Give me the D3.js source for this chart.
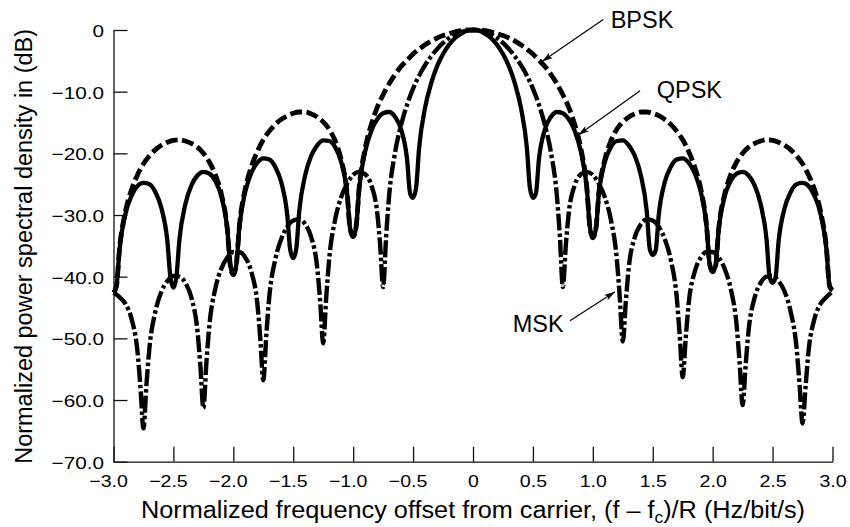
<!DOCTYPE html>
<html>
<head>
<meta charset="utf-8">
<script src="https://cdn.jsdelivr.net/npm/d3@7"></script>
<style>
  html, body { margin: 0; padding: 0; background: #fff; }
  svg { display: block; }
  text { font-family: "Liberation Sans", Arial, Helvetica, sans-serif; fill: #000; }
</style>
</head>
<body>
<svg id="chart" width="850" height="527"></svg>
<script>
// Normalized power spectral density (dB) versus normalized frequency offset (f - fc)/R
const xTickValues = [-3, -2.5, -2, -1.5, -1, -0.5, 0, 0.5, 1, 1.5, 2, 2.5, 3];
const xTickLabels = ["\u22123.0", "\u22122.5", "\u22122.0", "\u22121.5", "\u22121.0", "\u22120.5", "0",
                     "0.5", "1.0", "1.5", "2.0", "2.5", "3.0"];
const yTickValues = [0, -10, -20, -30, -40, -50, -60, -70];
const yTickLabels = ["0", "\u221210.0", "\u221220.0", "\u221230.0", "\u221240.0", "\u221250.0", "\u221260.0", "\u221270.0"];

// [frequency offset, PSD in dB]
const bpsk = [
  [-3,-42.6],[-2.975,-41.5],[-2.95,-35.5],[-2.9,-29.4],[-2.85,-25.9],[-2.8,-23.5],[-2.75,-21.7],[-2.7,-20.4],
  [-2.65,-19.4],[-2.6,-18.7],[-2.55,-18.2],[-2.5,-17.9],[-2.45,-17.8],[-2.4,-18.0],[-2.35,-18.4],[-2.3,-19.0],
  [-2.25,-20.0],[-2.2,-21.4],[-2.15,-23.5],[-2.1,-26.6],[-2.05,-32.3],[-2.025,-38.2],[-2,-39.7],[-1.975,-38.0],
  [-1.95,-31.9],[-1.9,-25.7],[-1.85,-22.2],[-1.8,-19.7],[-1.75,-17.8],[-1.7,-16.4],[-1.65,-15.3],[-1.6,-14.5],
  [-1.55,-13.9],[-1.5,-13.5],[-1.45,-13.3],[-1.4,-13.3],[-1.35,-13.6],[-1.3,-14.1],[-1.25,-14.9],[-1.2,-16.1],
  [-1.15,-18.0],[-1.1,-21.0],[-1.05,-26.5],[-1.025,-32.3],[-1,-33.5],[-0.975,-31.8],[-0.95,-25.6],[-0.9,-19.2],
  [-0.85,-15.4],[-0.8,-12.6],[-0.75,-10.5],[-0.7,-8.7],[-0.65,-7.2],[-0.6,-5.9],[-0.55,-4.9],[-0.5,-3.9],
  [-0.45,-3.1],[-0.4,-2.4],[-0.35,-1.8],[-0.3,-1.3],[-0.25,-0.9],[-0.2,-0.6],[-0.15,-0.3],[-0.1,-0.1],
  [-0.05,0],[0,0],
  [0.05,0],[0.1,-0.1],[0.15,-0.3],[0.2,-0.6],[0.25,-0.9],[0.3,-1.3],[0.35,-1.8],[0.4,-2.4],[0.45,-3.1],
  [0.5,-3.9],[0.55,-4.9],[0.6,-5.9],[0.65,-7.2],[0.7,-8.7],[0.75,-10.5],[0.8,-12.6],[0.85,-15.4],[0.9,-19.2],
  [0.95,-25.6],[0.975,-31.8],[1,-33.7],[1.025,-32.3],[1.05,-26.5],[1.1,-21.0],[1.15,-18.0],[1.2,-16.1],
  [1.25,-14.9],[1.3,-14.1],[1.35,-13.6],[1.4,-13.3],[1.45,-13.3],[1.5,-13.5],[1.55,-13.9],[1.6,-14.5],
  [1.65,-15.3],[1.7,-16.4],[1.75,-17.8],[1.8,-19.7],[1.85,-22.2],[1.9,-25.7],[1.95,-31.9],[1.975,-38.0],
  [2,-39.2],[2.025,-38.2],[2.05,-32.3],[2.1,-26.6],[2.15,-23.5],[2.2,-21.4],[2.25,-20.0],[2.3,-19.0],
  [2.35,-18.4],[2.4,-18.0],[2.45,-17.8],[2.5,-17.9],[2.55,-18.2],[2.6,-18.7],[2.65,-19.4],[2.7,-20.4],
  [2.75,-21.7],[2.8,-23.5],[2.85,-25.9],[2.9,-29.4],[2.95,-35.5],[2.975,-41.5],[3,-42.2]
];

const qpsk = [
  [-3,-42.6],[-2.975,-41.5],[-2.95,-35.6],[-2.9,-29.8],[-2.85,-26.9],[-2.8,-25.3],[-2.75,-24.8],[-2.7,-25.0],
  [-2.65,-26.3],[-2.6,-28.9],[-2.55,-34.3],[-2.525,-40.1],[-2.5,-41.8],[-2.475,-40.0],[-2.45,-34.0],[-2.4,-28.2],
  [-2.35,-25.2],[-2.3,-23.6],[-2.25,-23.0],[-2.2,-23.3],[-2.15,-24.5],[-2.1,-27.0],[-2.05,-32.4],[-2.025,-38.2],
  [-2,-39.7],[-1.975,-38.0],[-1.95,-32.0],[-1.9,-26.2],[-1.85,-23.2],[-1.8,-21.5],[-1.75,-20.8],[-1.7,-21.0],
  [-1.65,-22.2],[-1.6,-24.7],[-1.55,-30.0],[-1.525,-35.7],[-1.5,-37.0],[-1.475,-35.5],[-1.45,-29.4],[-1.4,-23.5],
  [-1.35,-20.4],[-1.3,-18.7],[-1.25,-17.9],[-1.2,-18.0],[-1.15,-19.0],[-1.1,-21.4],[-1.05,-26.6],[-1.025,-32.3],
  [-1,-33.5],[-0.975,-31.9],[-0.95,-25.7],[-0.9,-19.7],[-0.85,-16.4],[-0.8,-14.5],[-0.75,-13.5],[-0.7,-13.3],
  [-0.65,-14.1],[-0.6,-16.1],[-0.55,-21.0],[-0.525,-26.5],[-0.5,-27.2],[-0.475,-25.6],[-0.45,-19.2],[-0.4,-12.6],
  [-0.35,-8.7],[-0.3,-5.9],[-0.25,-3.9],[-0.2,-2.4],[-0.15,-1.3],[-0.1,-0.6],[-0.05,-0.1],[0,0],
  [0.05,-0.1],[0.1,-0.6],[0.15,-1.3],[0.2,-2.4],[0.25,-3.9],[0.3,-5.9],[0.35,-8.7],[0.4,-12.6],[0.45,-19.2],
  [0.475,-25.6],[0.5,-27.2],[0.525,-26.5],[0.55,-21.0],[0.6,-16.1],[0.65,-14.1],[0.7,-13.3],[0.75,-13.5],
  [0.8,-14.5],[0.85,-16.4],[0.9,-19.7],[0.95,-25.7],[0.975,-31.9],[1,-33.7],[1.025,-32.3],[1.05,-26.6],
  [1.1,-21.4],[1.15,-19.0],[1.2,-18.0],[1.25,-17.9],[1.3,-18.7],[1.35,-20.4],[1.4,-23.5],[1.45,-29.4],
  [1.475,-35.5],[1.5,-36.5],[1.525,-35.7],[1.55,-30.0],[1.6,-24.7],[1.65,-22.2],[1.7,-21.0],[1.75,-20.8],
  [1.8,-21.5],[1.85,-23.2],[1.9,-26.2],[1.95,-32.0],[1.975,-38.0],[2,-39.2],[2.025,-38.2],[2.05,-32.4],
  [2.1,-27.0],[2.15,-24.5],[2.2,-23.3],[2.25,-23.0],[2.3,-23.6],[2.35,-25.2],[2.4,-28.2],[2.45,-34.0],
  [2.475,-40.0],[2.5,-41.0],[2.525,-40.1],[2.55,-34.3],[2.6,-28.9],[2.65,-26.3],[2.7,-25.0],[2.75,-24.8],
  [2.8,-25.3],[2.85,-26.9],[2.9,-29.8],[2.95,-35.6],[2.975,-41.5],[3,-42.2]
];

const msk = [
  [-3,-42.6],[-2.95,-43.3],[-2.9,-44.4],[-2.85,-46.8],[-2.8,-52.1],[-2.775,-57.9],[-2.75,-64.6],[-2.725,-57.5],
  [-2.7,-51.5],[-2.65,-45.6],[-2.6,-42.4],[-2.55,-40.7],[-2.5,-39.9],[-2.45,-40.0],[-2.4,-41.0],[-2.35,-43.4],
  [-2.3,-48.7],[-2.275,-54.4],[-2.25,-61.3],[-2.225,-54.0],[-2.2,-47.9],[-2.15,-41.9],[-2.1,-38.7],[-2.05,-36.9],
  [-2,-36.0],[-1.95,-36.0],[-1.9,-36.9],[-1.85,-39.2],[-1.8,-44.3],[-1.775,-50.0],[-1.75,-56.8],[-1.725,-49.5],
  [-1.7,-43.3],[-1.65,-37.2],[-1.6,-33.9],[-1.55,-31.9],[-1.5,-30.9],[-1.45,-30.7],[-1.4,-31.5],[-1.35,-33.6],
  [-1.3,-38.5],[-1.275,-44.1],[-1.25,-50.8],[-1.225,-43.4],[-1.2,-37.1],[-1.15,-30.7],[-1.1,-27.1],[-1.05,-24.9],
  [-1,-23.5],[-0.95,-23.0],[-0.9,-23.4],[-0.85,-25.1],[-0.8,-29.5],[-0.775,-34.8],[-0.75,-41.7],[-0.725,-33.5],
  [-0.7,-26.9],[-0.65,-19.8],[-0.6,-15.4],[-0.55,-12.1],[-0.5,-9.5],[-0.45,-7.4],[-0.4,-5.7],[-0.35,-4.3],
  [-0.3,-3.1],[-0.25,-2.1],[-0.2,-1.3],[-0.15,-0.7],[-0.1,-0.3],[-0.05,-0.1],[0,0],
  [0.05,-0.1],[0.1,-0.3],[0.15,-0.7],[0.2,-1.3],[0.25,-2.1],[0.3,-3.1],[0.35,-4.3],[0.4,-5.7],[0.45,-7.4],
  [0.5,-9.5],[0.55,-12.1],[0.6,-15.4],[0.65,-19.8],[0.7,-26.9],[0.725,-33.5],[0.75,-41.7],[0.775,-34.8],
  [0.8,-29.5],[0.85,-25.1],[0.9,-23.4],[0.95,-23.0],[1,-23.5],[1.05,-24.9],[1.1,-27.1],[1.15,-30.7],
  [1.2,-37.1],[1.225,-43.4],[1.25,-50.5],[1.275,-44.1],[1.3,-38.5],[1.35,-33.6],[1.4,-31.5],[1.45,-30.7],
  [1.5,-30.9],[1.55,-31.9],[1.6,-33.9],[1.65,-37.2],[1.7,-43.3],[1.725,-49.5],[1.75,-56.3],[1.775,-50.0],
  [1.8,-44.3],[1.85,-39.2],[1.9,-36.9],[1.95,-36.0],[2,-36.0],[2.05,-36.9],[2.1,-38.7],[2.15,-41.9],
  [2.2,-47.9],[2.225,-54.0],[2.25,-60.8],[2.275,-54.4],[2.3,-48.7],[2.35,-43.4],[2.4,-41.0],[2.45,-40.0],
  [2.5,-39.9],[2.55,-40.7],[2.6,-42.4],[2.65,-45.6],[2.7,-51.5],[2.725,-57.5],[2.75,-63.8],[2.775,-57.9],
  [2.8,-52.1],[2.85,-46.8],[2.9,-44.4],[2.95,-43.3],[3,-42.4]
];

// Line styles per modulation
const seriesStyle = [
  { name: "BPSK", data: bpsk, width: 4.8, dash: "12,4.5" },
  { name: "MSK",  data: msk,  width: 4.4, dash: "17,3,3.5,3" },
  { name: "QPSK", data: qpsk, width: 4.3, dash: null }
];

// Callout labels: label anchor and arrow (start -> tip) in data units
const callouts = [
  { text: "BPSK", label: [1.149, 0.37],  from: [1.087, 1.70],   to: [0.576, -5.11] },
  { text: "QPSK", label: [1.533, -11.1], from: [1.394, -9.84],  to: [0.879, -17.03] },
  { text: "MSK",  label: [0.331, -48.9], from: [0.809, -47.14], to: [1.185, -42.44] }
];

const svg = d3.select("#chart");
const x = d3.scaleLinear().domain([-3, 3]).range([113.5, 832.5]);
const y = d3.scaleLinear().domain([-70, 0]).range([461.7, 30]);

const tickFont = 17;
const labelFont = 23.5;
const fontStack = "'Liberation Sans', Arial, Helvetica, sans-serif";

// Curves
const line = d3.line()
  .x(d => x(d[0]))
  .y(d => y(d[1]))
  .curve(d3.curveMonotoneX);

svg.append("g").attr("class", "curves")
  .selectAll("path")
  .data(seriesStyle)
  .join("path")
  .attr("d", d => line(d.data))
  .attr("fill", "none")
  .attr("stroke", "#000")
  .attr("stroke-width", d => d.width)
  .attr("stroke-linejoin", "round")
  .attr("stroke-dasharray", d => d.dash);

// Y axis (ticks point into the plot)
const yAxis = svg.append("g")
  .attr("transform", `translate(${x(-3)},0)`)
  .call(d3.axisLeft(y)
    .tickValues(yTickValues)
    .tickFormat((d, i) => yTickLabels[i])
    .tickSizeInner(-14)
    .tickSizeOuter(0));

// X axis (ticks point into the plot)
const xAxis = svg.append("g")
  .attr("transform", `translate(0,${y(-70)})`)
  .call(d3.axisBottom(x)
    .tickValues(xTickValues)
    .tickFormat((d, i) => xTickLabels[i])
    .tickSizeInner(-15)
    .tickSizeOuter(0));

[yAxis, xAxis].forEach(g => {
  g.attr("font-size", null).attr("font-family", null);
  g.select(".domain").attr("stroke", "#111").attr("stroke-width", 1.3);
  g.selectAll(".tick line").attr("stroke", "#111").attr("stroke-width", 1.3);
  g.selectAll(".tick text")
    .attr("font-family", fontStack)
    .attr("font-size", tickFont)
    .attr("fill", "#000");
});

yAxis.selectAll(".tick text")
  .attr("x", null).attr("dy", "0.38em")
  .attr("text-anchor", "end")
  .attr("transform", "translate(-9.5,0) scale(1.22,1)");

// Negative labels keep the digits centred on the tick, the minus sign hangs to the left
xAxis.selectAll(".tick text")
  .attr("y", null).attr("dy", null)
  .attr("text-anchor", "middle")
  .attr("transform", (d, i) =>
    `translate(${xTickLabels[i].startsWith("\u2212") ? -5.5 : 0},25) scale(1.15,1)`);

// Axis titles
const xTitle = svg.append("text")
  .attr("x", x(0))
  .attr("y", 518.3)
  .attr("text-anchor", "middle")
  .attr("font-size", labelFont);
xTitle.append("tspan").text("Normalized frequency offset from carrier, (f \u2013 f");
xTitle.append("tspan").attr("dy", 5).attr("font-size", 16).text("c");
xTitle.append("tspan").attr("dy", -5).text(")/R (Hz/bit/s)");
xTitle.attr("textLength", 664).attr("lengthAdjust", "spacingAndGlyphs");

svg.append("text")
  .attr("transform", `translate(31.7,${(y(0) + y(-70)) / 2 + 0.5}) rotate(-90)`)
  .attr("text-anchor", "middle")
  .attr("font-size", labelFont)
  .text("Normalized power spectral density in (dB)");

// Arrowhead marker for callouts
svg.append("defs").append("marker")
  .attr("id", "arrowhead")
  .attr("viewBox", "0 0 10 6")
  .attr("refX", 10).attr("refY", 3)
  .attr("markerUnits", "userSpaceOnUse")
  .attr("markerWidth", 11).attr("markerHeight", 6.6)
  .attr("orient", "auto")
  .append("path")
  .attr("d", "M0,0 L10,3 L0,6 L2.5,3 Z")
  .attr("fill", "#000");

const callG = svg.append("g").attr("class", "callouts");
callG.selectAll("line")
  .data(callouts)
  .join("line")
  .attr("x1", d => x(d.from[0])).attr("y1", d => y(d.from[1]))
  .attr("x2", d => x(d.to[0])).attr("y2", d => y(d.to[1]))
  .attr("stroke", "#000")
  .attr("stroke-width", 1.2)
  .attr("marker-end", "url(#arrowhead)");

callG.selectAll("text")
  .data(callouts)
  .join("text")
  .attr("x", d => x(d.label[0]))
  .attr("y", d => y(d.label[1]))
  .attr("font-size", labelFont)
  .text(d => d.text);
</script>
</body>
</html>
